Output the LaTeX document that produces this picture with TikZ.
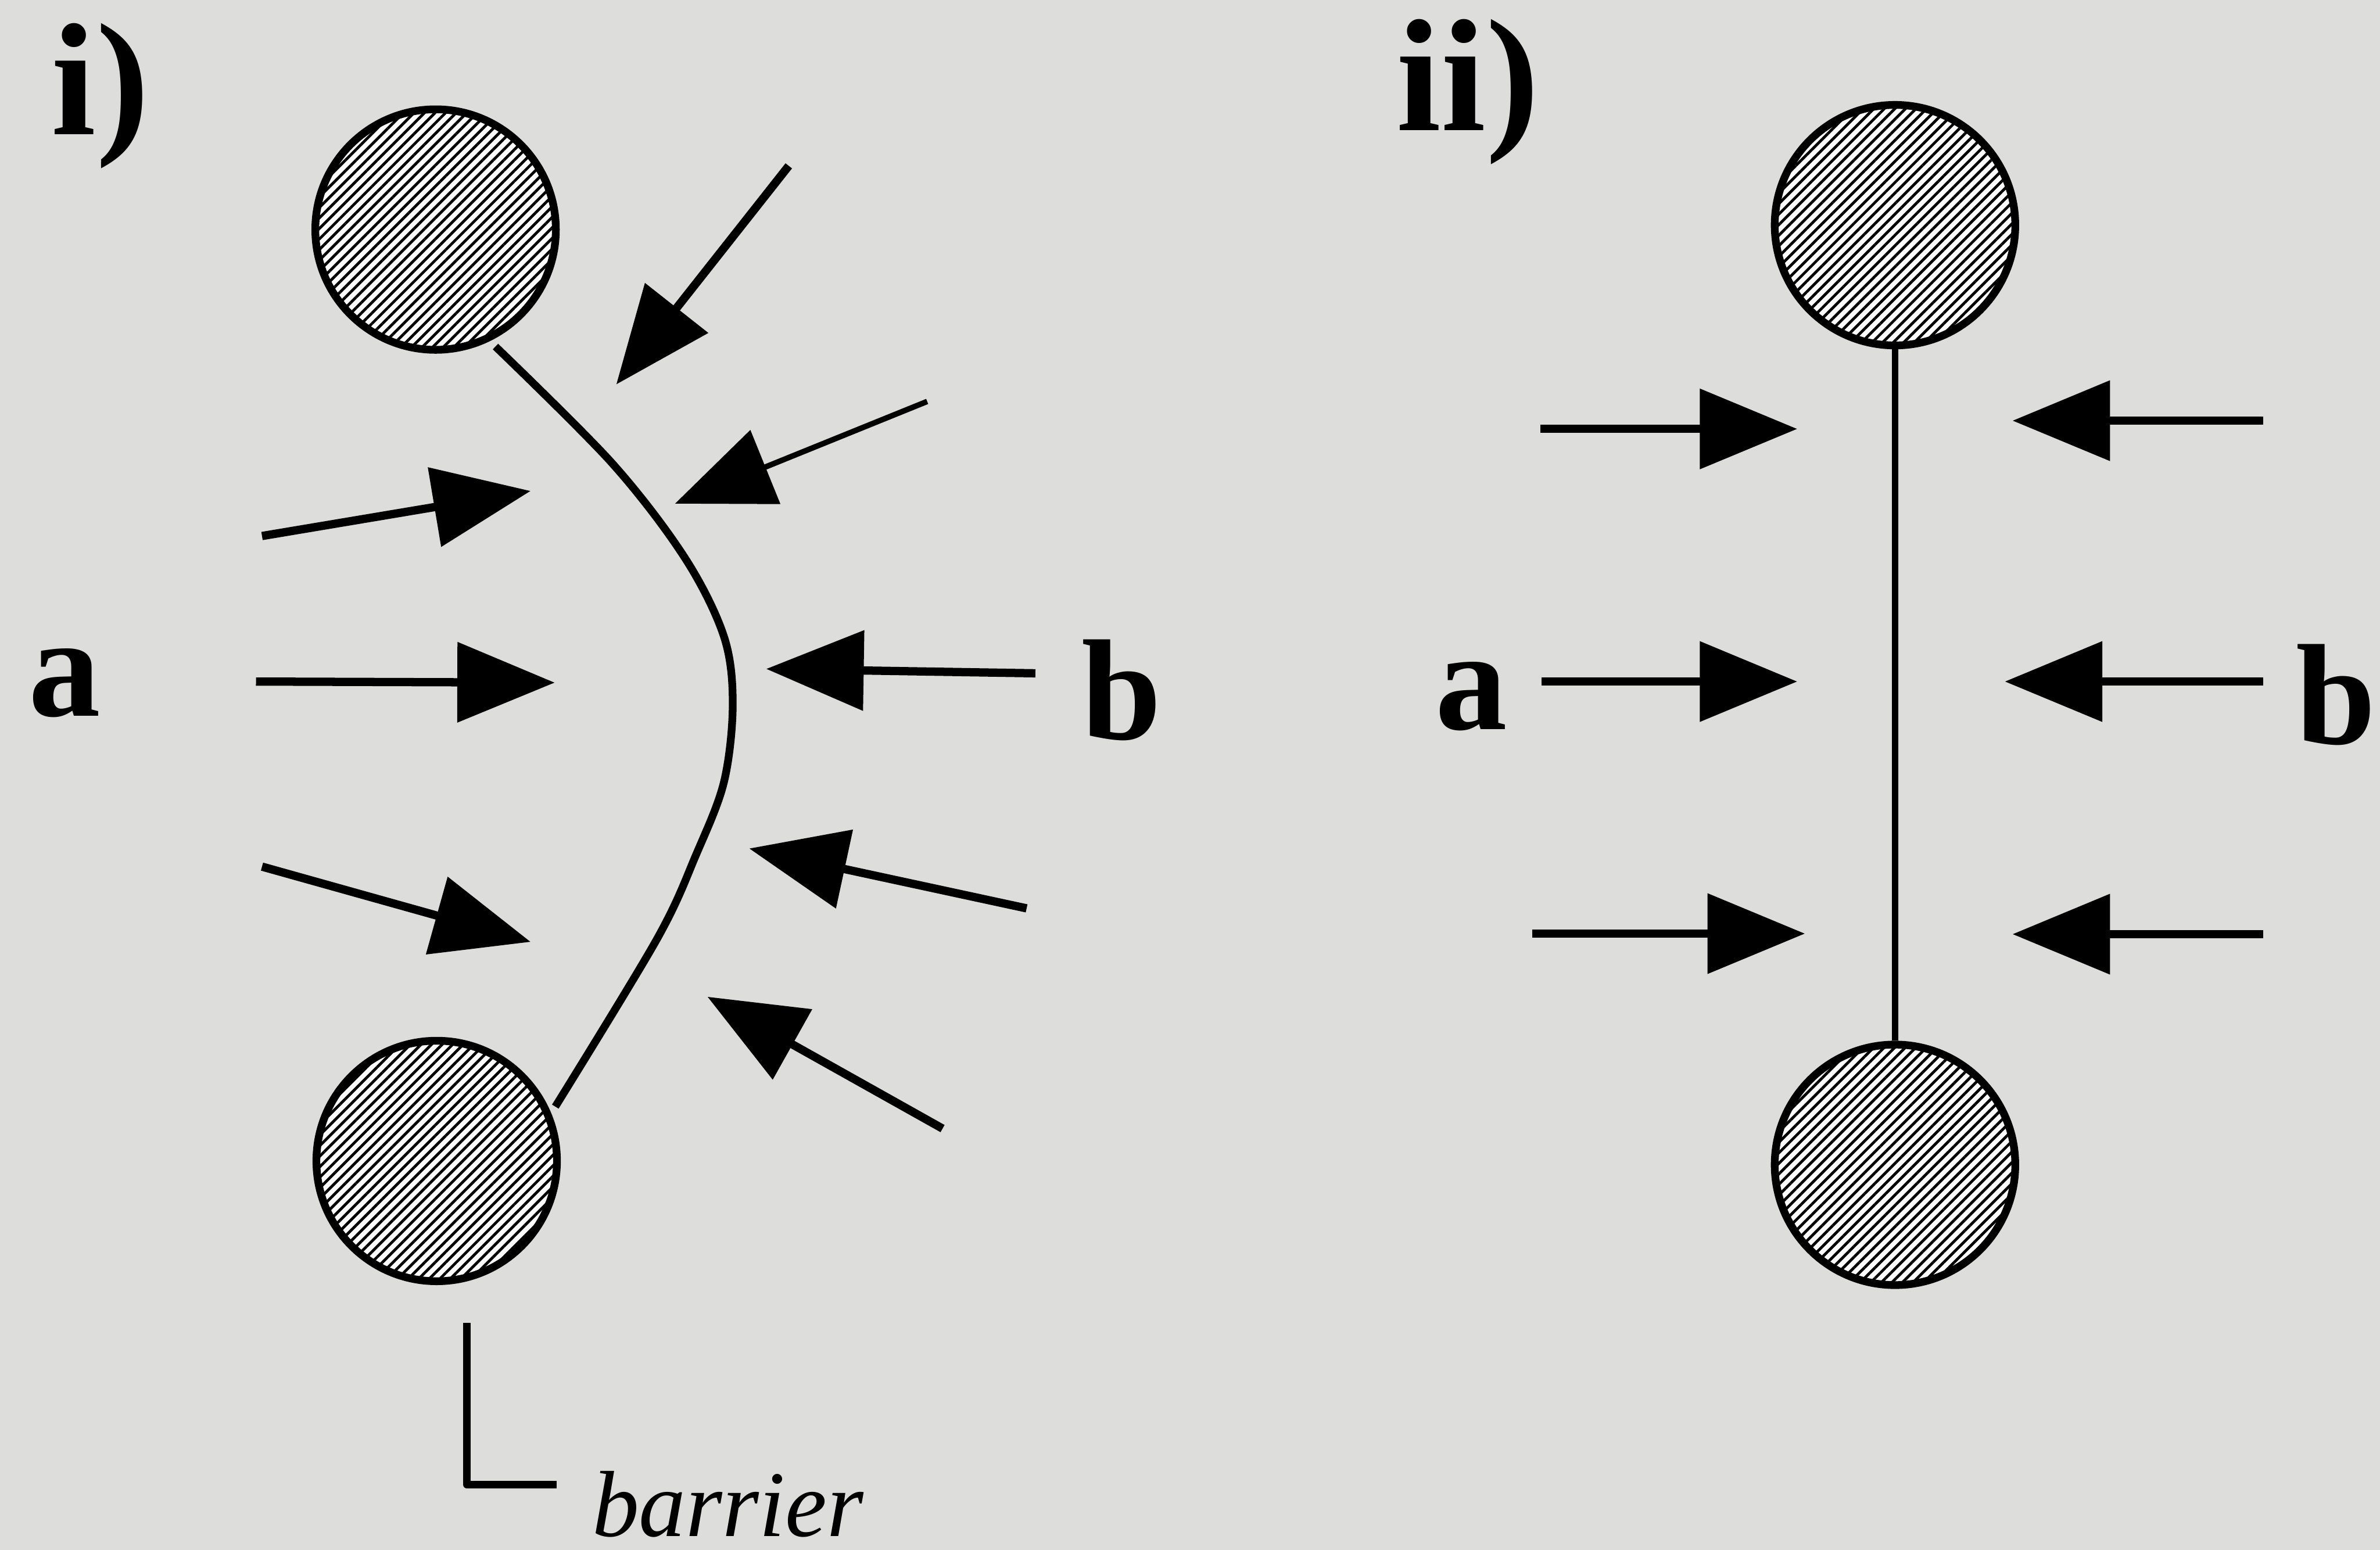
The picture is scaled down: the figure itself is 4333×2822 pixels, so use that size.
\documentclass[tikz,border=0pt]{standalone}
\usepackage{fontspec}
\setmainfont{Liberation Serif}
\usetikzlibrary{arrows.meta,patterns.meta,positioning}
\definecolor{paper}{RGB}{221,221,220}
\tikzset{
  >={Triangle[length=6.2mm,width=5mm]},
  ball/.style={circle,draw=black,line width=1.4pt,minimum size=15.3mm,
    inner sep=0pt,preaction={fill=white},
    pattern={Lines[angle=45,distance=1.35pt,line width=0.5pt]}},
  push/.style={->,line width=1.5pt},
  thinpush/.style={->,line width=1pt},
  wall/.style={line width=1.4pt,line join=round},
  sidelbl/.style={font=\fontsize{26}{30}\selectfont\bfseries,inner sep=0pt,
    anchor=base west},
  panellbl/.style={font=\fontsize{29}{32}\selectfont\bfseries,inner sep=0pt,
    anchor=base west},
  taglbl/.style={font=\fontsize{17}{20}\selectfont\itshape,inner sep=0pt,
    anchor=base west},
}

\begin{document}
\begin{tikzpicture}[x=0.0035cm,y=-0.0035cm]
  \fill[paper] (0,0) rectangle (4333,2822);
  \useasboundingbox (0,0) rectangle (4333,2822);

  % panel i
  \node[panellbl] (ti) at (92,245) {i)};
  \node[ball] (ut) at (793,418) {};
  \node[ball] (ub) at (795,2114) {};
  \coordinate (w0) at (902,631);
  \coordinate (w1) at (1011,2015);
  \draw[wall] plot[smooth,tension=0.55] coordinates {(w0) (1114,843)
    (1247,1016) (1318,1159) (1334,1282) (1318,1424) (1267,1557)
    (1196,1710) (w1)};
  \node[sidelbl] (ia) at (50,1304) {a};
  \node[sidelbl] (ib) at (1967,1346) {b};
  \coordinate (ia1s) at (477,976);  \coordinate (ia1e) at (966,894);
  \coordinate (ia2s) at (466,1241); \coordinate (ia2e) at (1010,1243);
  \coordinate (ia3s) at (477,1578); \coordinate (ia3e) at (966,1715);
  \draw[push] (ia1s) -- (ia1e);
  \draw[push] (ia2s) -- (ia2e);
  \draw[push] (ia3s) -- (ia3e);
  \coordinate (ib1s) at (1436,302);  \coordinate (ib1e) at (1122,700);
  \coordinate (ib2s) at (1688,731);  \coordinate (ib2e) at (1229,917);
  \coordinate (ib3s) at (1885,1226); \coordinate (ib3e) at (1395,1218);
  \coordinate (ib4s) at (1869,1654); \coordinate (ib4e) at (1364,1545);
  \coordinate (ib5s) at (1716,2055); \coordinate (ib5e) at (1288,1815);
  \draw[push] (ib1s) -- (ib1e);
  \draw[thinpush] (ib2s) -- (ib2e);
  \draw[push] (ib3s) -- (ib3e);
  \draw[push] (ib4s) -- (ib4e);
  \draw[push] (ib5s) -- (ib5e);
  \coordinate (bt) at (850,2409);
  \coordinate (be) at (1013,2703);
  \draw[wall] (bt) |- (be);
  \node[taglbl] (bar) at (1076,2797) {barrier};

  % panel ii
  \node[panellbl] (tii) at (2541,237) {ii)};
  \node[ball] (vt) at (3450,410) {};
  \node[ball] (vb) at (3450,2121) {};
  \draw[line width=1.2pt] (vt) -- (vb);
  \node[sidelbl] (iia) at (2611,1328) {a};
  \node[sidelbl] (iib) at (4178,1355) {b};
  \coordinate (ja1s) at (2804,781);  \coordinate (ja1e) at (3272,781);
  \coordinate (ja2s) at (2806,1241); \coordinate (ja2e) at (3272,1241);
  \coordinate (ja3s) at (2790,1700); \coordinate (ja3e) at (3286,1700);
  \draw[push] (ja1s) -- (ja1e);
  \draw[push] (ja2s) -- (ja2e);
  \draw[push] (ja3s) -- (ja3e);
  \coordinate (jb1s) at (4120,766);  \coordinate (jb1e) at (3664,766);
  \coordinate (jb2s) at (4120,1241); \coordinate (jb2e) at (3650,1241);
  \coordinate (jb3s) at (4120,1701); \coordinate (jb3e) at (3664,1701);
  \draw[push] (jb1s) -- (jb1e);
  \draw[push] (jb2s) -- (jb2e);
  \draw[push] (jb3s) -- (jb3e);
\end{tikzpicture}
\end{document}
